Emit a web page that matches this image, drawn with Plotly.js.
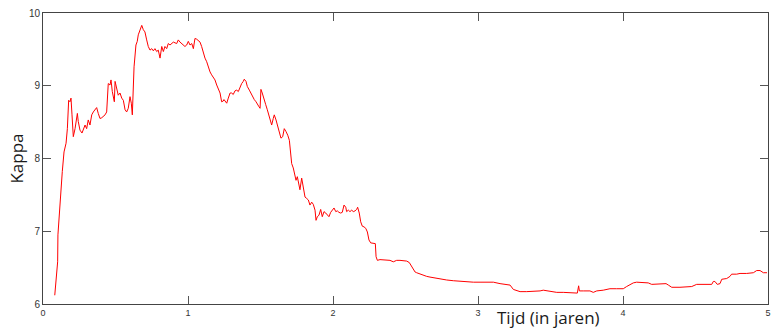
<!DOCTYPE html>
<html>
<head>
<meta charset="utf-8">
<script src="https://cdn.plot.ly/plotly-3.0.1.min.js"></script>
<style>html,body{margin:0;padding:0;background:#fff;}#chart{width:773px;height:329px;}</style>
</head>
<body>
<div id="chart"></div>
<script>
// Time in years
const tijd = [0.081,0.088,0.094,0.101,0.103,0.112,0.122,0.133,0.145,0.159,0.168,0.177,0.186,0.193,0.200,0.209,0.221,0.228,0.237,0.243,0.255,0.269,0.278,0.290,0.301,0.312,0.324,0.336,0.347,0.359,0.370,0.381,0.393,0.405,0.428,0.439,0.450,0.462,0.469,0.478,0.485,0.492,0.497,0.508,0.519,0.531,0.543,0.554,0.566,0.577,0.588,0.600,0.609,0.616,0.623,0.628,0.641,0.650,0.657,0.669,0.681,0.692,0.703,0.715,0.726,0.738,0.750,0.761,0.772,0.784,0.795,0.807,0.819,0.830,0.841,0.853,0.864,0.876,0.888,0.899,0.922,0.933,0.945,0.957,0.968,0.979,0.991,1.002,1.014,1.026,1.037,1.048,1.060,1.071,1.083,1.094,1.106,1.117,1.129,1.140,1.152,1.163,1.174,1.186,1.198,1.209,1.221,1.232,1.243,1.248,1.267,1.278,1.290,1.301,1.312,1.324,1.336,1.347,1.359,1.370,1.381,1.388,1.400,1.409,1.423,1.434,1.446,1.457,1.469,1.478,1.490,1.497,1.503,1.512,1.524,1.536,1.547,1.559,1.570,1.577,1.588,1.595,1.607,1.619,1.630,1.641,1.653,1.664,1.676,1.688,1.699,1.706,1.715,1.726,1.738,1.745,1.754,1.766,1.772,1.784,1.795,1.807,1.819,1.830,1.841,1.853,1.864,1.876,1.883,1.892,1.903,1.915,1.926,1.938,1.950,1.961,1.972,1.984,1.995,2.007,2.019,2.030,2.041,2.053,2.064,2.076,2.088,2.094,2.106,2.117,2.129,2.140,2.152,2.163,2.170,2.181,2.191,2.202,2.214,2.226,2.237,2.248,2.260,2.278,2.292,2.297,2.306,2.324,2.347,2.370,2.393,2.416,2.439,2.462,2.484,2.508,2.526,2.543,2.554,2.566,2.577,2.600,2.623,2.646,2.669,2.692,2.738,2.784,2.830,2.876,2.922,2.968,3.014,3.060,3.106,3.152,3.198,3.221,3.244,3.267,3.290,3.336,3.381,3.428,3.450,3.474,3.519,3.543,3.588,3.634,3.669,3.685,3.694,3.699,3.726,3.772,3.795,3.819,3.864,3.910,3.956,4.002,4.025,4.048,4.071,4.094,4.140,4.174,4.198,4.232,4.278,4.297,4.313,4.336,4.393,4.439,4.474,4.508,4.554,4.612,4.623,4.634,4.650,4.669,4.681,4.715,4.738,4.749,4.784,4.807,4.853,4.899,4.922,4.945,4.968,4.993];
// Kappa values
const kappa = [6.12,6.31,6.44,6.58,6.95,7.22,7.64,7.82,8.09,8.21,8.41,8.80,8.78,8.83,8.60,8.30,8.41,8.52,8.62,8.51,8.39,8.35,8.39,8.46,8.41,8.53,8.46,8.60,8.64,8.67,8.70,8.62,8.55,8.56,8.60,8.64,9.03,9.01,9.08,8.92,8.83,8.78,9.06,8.96,8.87,8.90,8.83,8.80,8.67,8.64,8.69,8.85,8.76,8.60,9.00,9.26,9.56,9.61,9.70,9.77,9.83,9.77,9.74,9.63,9.54,9.49,9.51,9.48,9.51,9.47,9.49,9.38,9.54,9.47,9.54,9.51,9.58,9.56,9.58,9.60,9.58,9.63,9.60,9.58,9.56,9.54,9.56,9.61,9.56,9.58,9.51,9.65,9.64,9.62,9.60,9.54,9.45,9.38,9.33,9.26,9.19,9.15,9.12,9.08,9.01,8.96,8.90,8.78,8.79,8.81,8.76,8.83,8.90,8.90,8.88,8.93,8.94,8.92,8.99,9.03,9.06,9.09,9.06,8.99,8.94,8.90,8.84,8.81,8.78,8.74,8.71,8.69,8.95,8.90,8.80,8.74,8.67,8.57,8.51,8.46,8.55,8.60,8.53,8.44,8.37,8.28,8.30,8.41,8.37,8.32,8.25,8.12,7.93,7.87,7.77,7.70,7.75,7.64,7.57,7.73,7.61,7.47,7.45,7.43,7.36,7.40,7.37,7.29,7.15,7.20,7.22,7.30,7.20,7.27,7.25,7.22,7.20,7.26,7.29,7.32,7.27,7.28,7.26,7.25,7.26,7.36,7.33,7.27,7.29,7.27,7.29,7.27,7.28,7.30,7.33,7.25,7.13,7.07,7.06,7.04,6.99,6.88,6.84,6.84,6.83,6.65,6.60,6.61,6.61,6.60,6.60,6.58,6.60,6.60,6.60,6.59,6.57,6.51,6.48,6.44,6.43,6.41,6.39,6.38,6.37,6.36,6.34,6.33,6.32,6.31,6.31,6.30,6.30,6.30,6.30,6.28,6.27,6.26,6.20,6.18,6.17,6.17,6.17,6.18,6.19,6.18,6.17,6.16,6.16,6.16,6.15,6.15,6.25,6.18,6.18,6.18,6.16,6.18,6.19,6.21,6.21,6.21,6.24,6.27,6.29,6.30,6.30,6.29,6.27,6.27,6.28,6.28,6.26,6.23,6.23,6.23,6.24,6.27,6.27,6.27,6.31,6.31,6.27,6.28,6.34,6.35,6.38,6.41,6.41,6.42,6.42,6.43,6.46,6.46,6.43,6.43];
const xTicks = [0,1,2,3,4,5];
const yTicks = [6,7,8,9,10];
const xLabel = 'Tijd (in jaren)';
const yLabel = 'Kappa';

const axisCommon = {
  showgrid: false, zeroline: false, showline: true, linecolor: '#444', linewidth: 1,
  ticks: 'inside', ticklen: 8, tickcolor: '#555', tickwidth: 1,
  mirror: 'ticks', tickfont: {family: 'Liberation Sans, Arial, sans-serif', size: 10, color: '#333'}
};

const layout = {
  width: 773, height: 329,
  margin: {l: 43, r: 5, t: 13, b: 25},
  paper_bgcolor: '#fff', plot_bgcolor: '#fff',
  showlegend: false,
  xaxis: Object.assign({}, axisCommon, {range: [0, 5], tickvals: xTicks, ticktext: xTicks.map(String),
    tickfont: {family: 'Liberation Sans, Arial, sans-serif', size: 9, color: '#333'}}),
  yaxis: Object.assign({}, axisCommon, {range: [6, 10], tickvals: yTicks, ticktext: yTicks.map(String),
    title: {text: yLabel, standoff: 0, font: {family: 'Open Sans, Noto Sans, sans-serif', size: 17, color: '#1a1a1a'}}}),
  annotations: [{
    text: xLabel, xref: 'paper', yref: 'paper', x: 0.697, y: 0, yshift: -13,
    xanchor: 'center', yanchor: 'middle', showarrow: false,
    font: {family: 'Open Sans, Noto Sans, sans-serif', size: 17, color: '#1a1a1a'}
  }]
};

Plotly.newPlot('chart', [{
  x: tijd, y: kappa, type: 'scatter', mode: 'lines',
  line: {color: '#ff0000', width: 1}, hoverinfo: 'x+y'
}], layout, {displayModeBar: false, staticPlot: true});
</script>
</body>
</html>
